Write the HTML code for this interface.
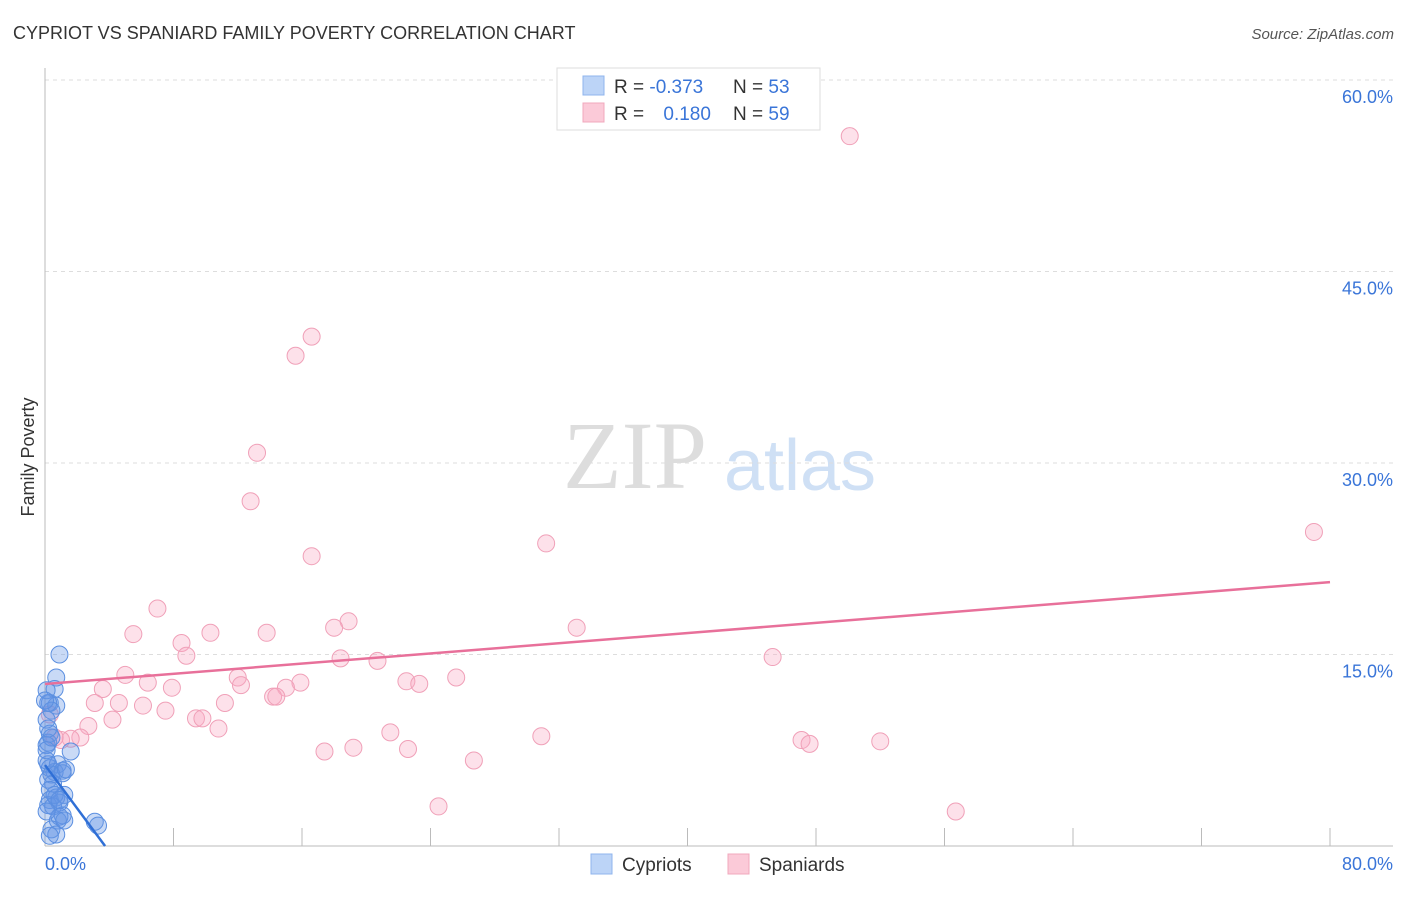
<!DOCTYPE html>
<html><head><meta charset="utf-8"><style>
body{margin:0;background:#fff;font-family:"Liberation Sans",sans-serif;}
#wrap{position:relative;width:1406px;height:892px;}
</style></head><body>
<div id="wrap">
<svg id="svg" width="1406" height="892" xmlns="http://www.w3.org/2000/svg">
<text x="13" y="39" font-size="18" fill="#333">CYPRIOT VS SPANIARD FAMILY POVERTY CORRELATION CHART</text>
<text x="1394" y="39" font-size="15" fill="#555" font-style="italic" text-anchor="end">Source: ZipAtlas.com</text>
<text x="635" y="488" font-size="96" fill="#ddd" font-family="Liberation Serif,serif" text-anchor="middle">ZIP</text>
<text x="800" y="490" font-size="72" fill="#cfe0f5" text-anchor="middle">atlas</text>
<text transform="translate(34,457) rotate(-90)" font-size="18" fill="#333" text-anchor="middle">Family Poverty</text>
<g id="grid"></g><g id="pts"></g><g id="lines"></g>
<g>
<rect x="557" y="68" width="263" height="62" fill="#fff" stroke="#ddd"/>
<rect x="583" y="76" width="21" height="19" fill="#bcd4f7" stroke="#8fb4ee"/>
<rect x="583" y="103" width="21" height="19" fill="#fbcad8" stroke="#f0a8bd"/>
<text x="614" y="93" font-size="19" fill="#333">R = <tspan fill="#3a75d8">-0.373</tspan></text>
<text x="733" y="93" font-size="19" fill="#333">N = <tspan fill="#3a75d8">53</tspan></text>
<text x="614" y="120" font-size="19" fill="#333">R = <tspan fill="#3a75d8" dx="14">0.180</tspan></text>
<text x="733" y="120" font-size="19" fill="#333">N = <tspan fill="#3a75d8">59</tspan></text>
</g>
<g>
<rect x="591" y="854" width="21" height="20" fill="#bcd4f7" stroke="#8fb4ee"/>
<text x="622" y="871" font-size="19" fill="#333">Cypriots</text>
<rect x="728" y="854" width="21" height="20" fill="#fbcad8" stroke="#f0a8bd"/>
<text x="759" y="871" font-size="19" fill="#333">Spaniards</text>
</g>
<text x="45" y="870" font-size="18" fill="#3a75d8">0.0%</text>
<text x="1393" y="870" font-size="18" fill="#3a75d8" text-anchor="end">80.0%</text>
</svg>
</div>
<script>
const yTicks=[15,30,45,60];
const yTickLabels=["15.0%","30.0%","45.0%","60.0%"];
const xTicks=[0,8,16,24,32,40,48,56,64,72,80];
const spanX=[50.1,16.6,15.6,13.2,12.8,16.6,31.2,79.0,7.0,5.5,18.9,18.0,8.5,10.3,13.8,33.1,8.8,18.4,20.7,45.3,5.0,6.4,7.9,12.0,12.2,3.6,25.6,22.5,23.3,15.9,15.0,14.2,14.4,3.1,4.6,6.1,11.2,7.5,9.4,9.8,4.2,2.7,10.8,21.5,30.9,2.2,1.6,1.0,47.1,47.6,52.0,17.4,19.2,22.6,26.7,24.5,56.7,0.3,0.6];
const spanY=[55.6,39.9,38.4,30.8,27.0,22.7,23.7,24.6,18.6,16.6,17.6,17.1,15.9,16.7,16.7,17.1,14.9,14.7,14.5,14.8,13.4,12.8,12.4,13.2,12.6,12.3,13.2,12.9,12.7,12.8,12.4,11.7,11.7,11.2,11.2,11.0,11.2,10.6,10.0,10.0,9.9,9.4,9.2,8.9,8.6,8.5,8.4,8.3,8.3,8.0,8.2,7.4,7.7,7.6,6.7,3.1,2.7,10.3,8.5];
const cypX=[0.9,0.7,0.6,0.3,0.7,0.2,0.1,0.4,0.1,0.3,0.2,0.1,0.4,1.6,0.2,0.3,0.6,0.8,1.1,1.1,0.2,0.4,0.5,0.3,0.7,0.9,0.3,1.2,0.2,0.5,1.1,0.8,0.9,0.4,0.7,3.1,3.3,0.1,0.1,0.2,0.6,0.9,0.1,1.2,0.3,1.3,0.0];
const cypY=[15.0,13.2,12.3,11.2,11.0,11.2,12.2,10.6,9.9,8.8,8.1,7.9,8.5,7.4,6.4,6.1,5.8,6.4,5.9,5.7,5.2,5.6,4.9,4.4,3.8,3.4,3.6,4.0,3.2,3.1,2.4,2.0,2.3,1.3,0.9,1.9,1.6,6.7,7.5,9.2,4.0,3.6,2.7,2.0,0.8,6.0,11.4];
const spanTrend=[[0,12.69],[80,20.67]];
const cypTrend=[[0,6.34],[3.74,0]];
const NS="http://www.w3.org/2000/svg";
const X=v=>45+v/80*1285, Y=v=>846-v/60*766;
function mk(tag,attrs,parent){const e=document.createElementNS(NS,tag);for(const k in attrs)e.setAttribute(k,attrs[k]);parent.appendChild(e);return e;}
const svg=document.getElementById('svg'),grid=document.getElementById('grid'),pts=document.getElementById('pts'),lines=document.getElementById('lines');
yTicks.forEach((t,i)=>{
 const l=mk('line',{x1:45,x2:1393,y1:Y(t),y2:Y(t),stroke:'#ddd','stroke-dasharray':'4,4'},grid);
 
 
 const tx=mk('text',{x:1393,y:Y(t)+23,'font-size':18,fill:'#3a75d8','text-anchor':'end'},grid);
 tx.textContent=yTickLabels[i];
 
 
});
const ax=mk('line',{x1:45,x2:45,y1:68,y2:846,stroke:'#bbb'},grid);


const bx=mk('line',{x1:45,x2:1393,y1:846,y2:846,stroke:'#bbb'},grid);


xTicks.forEach(t=>{
 const l=mk('line',{x1:X(t),x2:X(t),y1:828,y2:846,stroke:'#bbb'},grid);
 
 
});
spanX.forEach((v,i)=>{
 const c=mk('circle',{cx:X(v),cy:Y(spanY[i]),r:8.5,fill:'rgba(248,170,195,0.35)',stroke:'#f0a0b8','stroke-width':1},pts);
 
 
});
cypX.forEach((v,i)=>{
 const c=mk('circle',{cx:X(v),cy:Y(cypY[i]),r:8.5,fill:'rgba(100,150,230,0.35)',stroke:'#5b8fe0','stroke-width':1},pts);
 
 
});
const sl=mk('line',{x1:X(spanTrend[0][0]),y1:Y(spanTrend[0][1]),x2:X(spanTrend[1][0]),y2:Y(spanTrend[1][1]),stroke:'#e8709a','stroke-width':2.5},lines);


const cl=mk('line',{x1:X(cypTrend[0][0]),y1:Y(cypTrend[0][1]),x2:X(cypTrend[1][0]),y2:Y(cypTrend[1][1]),stroke:'#2f6fd6','stroke-width':2.5},lines);


</script>
</body></html>
